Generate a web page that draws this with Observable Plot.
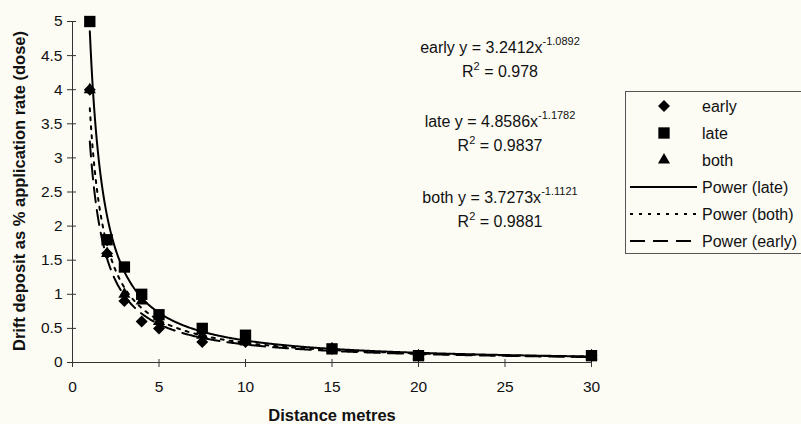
<!DOCTYPE html>
<html><head><meta charset="utf-8">
<script src="https://cdn.jsdelivr.net/npm/d3@7"></script>
<script src="https://cdn.jsdelivr.net/npm/@observablehq/plot@0.6"></script>
<style>
html,body{margin:0;padding:0;background:#fcfcf5;}
#chart svg{display:block;font-family:"Liberation Sans",Arial,sans-serif;background:#fcfcf5;}
</style></head><body><div id="chart"></div>
<script>
// ---- data ----
const distances = [1, 2, 3, 4, 5, 7.5, 10, 15, 20, 30];
const earlyValues = [4, 1.6, 0.9, 0.6, 0.5, 0.3, 0.3, 0.2, 0.1, 0.1];
const lateValues  = [5, 1.8, 1.4, 1.0, 0.7, 0.5, 0.4, 0.2, 0.1, 0.1];
const bothValues  = [4, 1.6, 1.0, 0.9, 0.6, 0.4, 0.3, 0.2, 0.1, 0.1];
const seriesNames = ["early", "late", "both"];
const fitCoef = [3.2412, 4.8586, 3.7273];
const fitExp  = [-1.0892, -1.1782, -1.1121];
const fitR2   = ["0.978", "0.9837", "0.9881"];
const xTicks = [0, 5, 10, 15, 20, 25, 30];
const yTicks = [0, 0.5, 1, 1.5, 2, 2.5, 3, 3.5, 4, 4.5, 5];
const xTitle = "Distance metres";
const yTitle = "Drift deposit as % application rate (dose)";
const legendLabels = ["early", "late", "both", "Power (late)", "Power (both)", "Power (early)"];

// ---- tables ----
const valueSets = [earlyValues, lateValues, bothValues];
const points = seriesNames.map((s, i) => distances.map((d, j) => ({series: s, x: d, y: valueSets[i][j]})));
// power trendline curves from the coefficients printed on the chart
const xs = d3.range(1, 30.0001, 0.05);
const curves = seriesNames.map((s, i) => xs.map(x => ({series: s, x, y: fitCoef[i] * Math.pow(x, fitExp[i])})));

const font = "Liberation Sans, Arial, sans-serif";
const W = 801, H = 424;

const chart = Plot.plot({
  width: W, height: H,
  marginLeft: 72, marginRight: 210, marginTop: 21, marginBottom: 62,
  style: {background: "#fcfcf5", fontFamily: font, color: "#111"},
  x: {domain: [0, 30]},
  y: {domain: [0, 5]},
  marks: [
    Plot.axisY({ticks: yTicks, tickSize: 0, tickPadding: 10, tickFormat: d => String(d), label: null, fontSize: 15.5}),
    Plot.axisY({ticks: yTicks, tickSize: 9, dx: 4, text: null, label: null, stroke: "#333"}),
    Plot.axisX({ticks: xTicks, tickSize: 0, tickPadding: 18, tickFormat: d => String(d), label: null, fontSize: 15.5}),
    Plot.axisX({ticks: xTicks, tickSize: 8, dy: -3, text: null, label: null, stroke: "#333"}),
    Plot.ruleX([0], {stroke: "#333"}),
    Plot.ruleY([0], {stroke: "#333"}),
    Plot.line(curves[0], {x: "x", y: "y", stroke: "#000", strokeWidth: 2, strokeDasharray: "15,8"}),
    Plot.line(curves[2], {x: "x", y: "y", stroke: "#000", strokeWidth: 2, strokeDasharray: "3,6"}),
    Plot.line(curves[1], {x: "x", y: "y", stroke: "#000", strokeWidth: 2}),
    Plot.dot(points[0], {x: "x", y: "y", symbol: () => "diamond2", r: 5.4, fill: "#000", stroke: "none"}),
    Plot.dot(points[1], {x: "x", y: "y", symbol: () => "square", r: 6.4, fill: "#000", stroke: "none"}),
    Plot.dot(points[2], {x: "x", y: "y", symbol: () => "triangle", r: 4.5, fill: "#000", stroke: "none"})
  ]
});

const svg = d3.select(chart);

// axis titles
svg.append("text").attr("x", 332).attr("y", 421).attr("text-anchor", "middle")
  .attr("font-family", font).attr("font-weight", "bold").attr("font-size", 16.5).attr("fill", "#111").text(xTitle);
svg.append("text").attr("transform", "translate(25,191) rotate(-90)").attr("text-anchor", "middle")
  .attr("font-family", font).attr("font-weight", "bold").attr("font-size", 16.5).attr("fill", "#111").text(yTitle);

// equation annotations
const eqY = [53, 127, 203];
seriesNames.forEach((s, i) => {
  const t = svg.append("text").attr("x", 500).attr("y", eqY[i]).attr("text-anchor", "middle")
    .attr("font-family", font).attr("font-size", 16).attr("fill", "#111");
  t.append("tspan").text(`${s} y = ${fitCoef[i].toFixed(4)}x`);
  t.append("tspan").attr("dy", -8).attr("font-size", 11).text(String(fitExp[i]));
  const r = svg.append("text").attr("x", 500).attr("y", eqY[i] + 24).attr("text-anchor", "middle")
    .attr("font-family", font).attr("font-size", 16).attr("fill", "#111");
  r.append("tspan").text("R");
  r.append("tspan").attr("dy", -7).attr("font-size", 11).text("2");
  r.append("tspan").attr("dy", 7).text(` = ${fitR2[i]}`);
});

// legend
const lg = svg.append("g").attr("text-anchor", "start");
lg.append("rect").attr("x", 625.5).attr("y", 91.5).attr("width", 200).attr("height", 162)
  .attr("fill", "#fcfcf5").attr("stroke", "#555");
const rowY = [106, 133, 160, 187, 214, 241];
const symTypes = [d3.symbolDiamond2, d3.symbolSquare, d3.symbolTriangle];
const symR = [5.4, 6.4, 4.5];
const dashes = [null, "3,6", "15,8"];
legendLabels.forEach((lab, i) => {
  const y = rowY[i];
  if (i < 3) {
    lg.append("path").attr("transform", `translate(664,${y})`)
      .attr("d", d3.symbol(symTypes[i], Math.PI * symR[i] * symR[i])()).attr("fill", "#000");
  } else {
    const l = lg.append("line").attr("x1", 630).attr("x2", 697).attr("y1", y).attr("y2", y)
      .attr("stroke", "#000").attr("stroke-width", 2);
    if (dashes[i - 3]) l.attr("stroke-dasharray", dashes[i - 3]);
  }
  lg.append("text").attr("x", 702).attr("y", y + 5.5).attr("text-anchor", "start")
    .attr("font-family", font).attr("font-size", 16).attr("fill", "#111").text(lab);
});

document.getElementById("chart").append(chart);
</script></body></html>
